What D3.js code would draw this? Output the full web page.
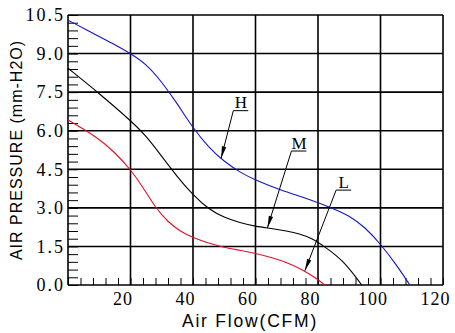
<!DOCTYPE html>
<html>
<head>
<meta charset="utf-8">
<script src="https://cdn.jsdelivr.net/npm/d3@7"></script>
<style>
  html, body { margin: 0; padding: 0; background: #fff; }
  svg { display: block; }
</style>
</head>
<body>
<svg id="chart" width="455" height="333"></svg>
<script>
// Fan P-Q curves at high, medium and low speed
const flowLabels = [20, 40, 60, 80, 100, 120];
const pressureLabels = [0, 1.5, 3.0, 4.5, 6.0, 7.5, 9.0, 10.5];

const hFlow     = [0, 10, 15, 20, 25, 30, 35, 40, 45, 50, 55, 60, 68, 77, 84.4, 90, 95, 100, 105, 109.4];
const hPressure = [10.3, 9.66, 9.35, 9.0, 8.6, 7.9, 7.05, 6.1, 5.35, 4.8, 4.38, 4.08, 3.69, 3.35, 3.0, 2.7, 2.25, 1.6, 0.8, 0];

const mFlow     = [0, 10, 20, 25, 30, 35, 40, 45, 50, 55, 60, 65, 70, 74, 78, 82, 88, 94];
const mPressure = [8.43, 7.45, 6.4, 5.8, 5.0, 4.2, 3.5, 2.95, 2.62, 2.42, 2.28, 2.2, 2.1, 2.0, 1.82, 1.5, 0.97, 0];

const lFlow     = [0, 10, 15, 20, 24, 28, 32, 36, 40, 45, 50, 55, 60, 65, 70, 75, 79, 82.2];
const lPressure = [6.42, 5.7, 5.15, 4.5, 3.8, 3.0, 2.45, 2.08, 1.84, 1.62, 1.46, 1.35, 1.23, 1.08, 0.88, 0.6, 0.3, 0];

const seriesNames = ["H", "M", "L"];
const seriesColors = ["#1414c8", "#000000", "#e0102a"];

// Callout for each curve: label spot and arrow tip on the curve
const calloutLabelFlow     = [55.3, 73.9, 88.2];
const calloutLabelPressure = [6.78, 5.21, 3.69];
const calloutTipFlow       = [49.0, 63.8, 75.8];
const calloutTipPressure   = [4.93, 2.22, 0.55];

const plotLeft = 68, plotRight = 443, plotTop = 15, plotBottom = 285;

const svg = d3.select("#chart");
const x = d3.scaleLinear().domain([0, 120]).range([plotLeft, plotRight]);
const y = d3.scaleLinear().domain([0, 10.5]).range([plotBottom, plotTop]);

// Grid
const grid = svg.append("g").attr("stroke", "#000").attr("stroke-width", 1.6);
grid.selectAll("line.v").data(flowLabels).join("line")
  .attr("class", "v")
  .attr("x1", d => x(d)).attr("x2", d => x(d))
  .attr("y1", y(0)).attr("y2", y(10.5));
grid.selectAll("line.h").data(pressureLabels).join("line")
  .attr("class", "h")
  .attr("x1", x(0)).attr("x2", x(120))
  .attr("y1", d => y(d)).attr("y2", d => y(d));
grid.append("line").attr("x1", x(0)).attr("x2", x(0)).attr("y1", y(0)).attr("y2", y(10.5));

// Axes with inward minor ticks
const xTickVals = d3.range(0, 31).map(i => i * 4);
const xAxis = d3.axisBottom(x)
  .tickValues(xTickVals)
  .tickSize(-7)
  .tickPadding(7)
  .tickFormat(d => flowLabels.includes(d) ? String(d) : "");
const gx = svg.append("g").attr("transform", `translate(0,${plotBottom})`).call(xAxis);
gx.select(".domain").remove();
gx.selectAll(".tick line").attr("stroke", "#000").attr("stroke-width", 1);
gx.selectAll(".tick text")
  .attr("dx", -8)
  .style("font-family", "'Liberation Serif', serif")
  .style("font-size", "18px")
  .style("letter-spacing", "1px")
  .attr("fill", "#000");

const yTickVals = d3.range(0, 36).map(i => +(i * 0.3).toFixed(1));
const yAxis = d3.axisLeft(y)
  .tickValues(yTickVals)
  .tickSize(-10)
  .tickPadding(3)
  .tickFormat((d, i) => i % 5 === 0 ? d3.format(".1f")(d) : "");
const gy = svg.append("g").attr("transform", `translate(${plotLeft},0)`).call(yAxis);
gy.select(".domain").remove();
gy.selectAll(".tick line").attr("stroke", "#000").attr("stroke-width", 1);
gy.selectAll(".tick text")
  .style("font-family", "'Liberation Serif', serif")
  .style("font-size", "18px")
  .style("letter-spacing", "2px")
  .attr("fill", "#000");

// Curves (smoothed B-spline through the sampled points)
const line = d3.line().x(d => x(d[0])).y(d => y(d[1])).curve(d3.curveBasis);
const series = [
  d3.zip(hFlow, hPressure),
  d3.zip(mFlow, mPressure),
  d3.zip(lFlow, lPressure)
];
svg.append("g").selectAll("path").data(series).join("path")
  .attr("d", line)
  .attr("fill", "none")
  .attr("stroke", (d, i) => seriesColors[i])
  .attr("stroke-width", 1.1);

// Callouts: underlined letter with a leader arrow onto its curve
const callouts = svg.append("g");
seriesNames.forEach((name, i) => {
  const cx = x(calloutLabelFlow[i]);
  const ulY = y(calloutLabelPressure[i]);
  const ulX0 = cx - 7.5, ulX1 = cx + 7.5;
  const tx = x(calloutTipFlow[i]), ty = y(calloutTipPressure[i]);
  callouts.append("text")
    .attr("x", cx).attr("y", ulY - 2.5)
    .attr("text-anchor", "middle")
    .style("font-family", "'Liberation Serif', serif")
    .style("font-size", "17px")
    .text(name);
  callouts.append("line")
    .attr("x1", ulX0).attr("x2", ulX1).attr("y1", ulY).attr("y2", ulY)
    .attr("stroke", "#000").attr("stroke-width", 1);
  callouts.append("line")
    .attr("x1", ulX0).attr("y1", ulY).attr("x2", tx).attr("y2", ty)
    .attr("stroke", "#000").attr("stroke-width", 1);
  const dx = tx - ulX0, dy = ty - ulY, len = Math.hypot(dx, dy);
  const ux = dx / len, uy = dy / len, px = -uy, py = ux;
  const bx = tx - ux * 12, by = ty - uy * 12;
  callouts.append("path")
    .attr("d", `M${tx},${ty}L${bx + px * 2.2},${by + py * 2.2}L${bx - px * 2.2},${by - py * 2.2}Z`)
    .attr("fill", "#000");
});

// Axis titles
svg.append("text")
  .attr("transform", `translate(22,150) rotate(-90)`)
  .attr("text-anchor", "middle")
  .style("font-family", "'Liberation Sans', Arial, sans-serif")
  .style("font-size", "16px")
  .style("letter-spacing", "1px")
  .text("AIR PRESSURE (mm-H2O)");

svg.append("text")
  .attr("x", 250).attr("y", 327)
  .attr("text-anchor", "middle")
  .style("font-family", "'Liberation Sans', Arial, sans-serif")
  .style("font-size", "17.5px")
  .style("letter-spacing", "1.8px")
  .text("Air Flow(CFM)");
</script>
</body>
</html>
